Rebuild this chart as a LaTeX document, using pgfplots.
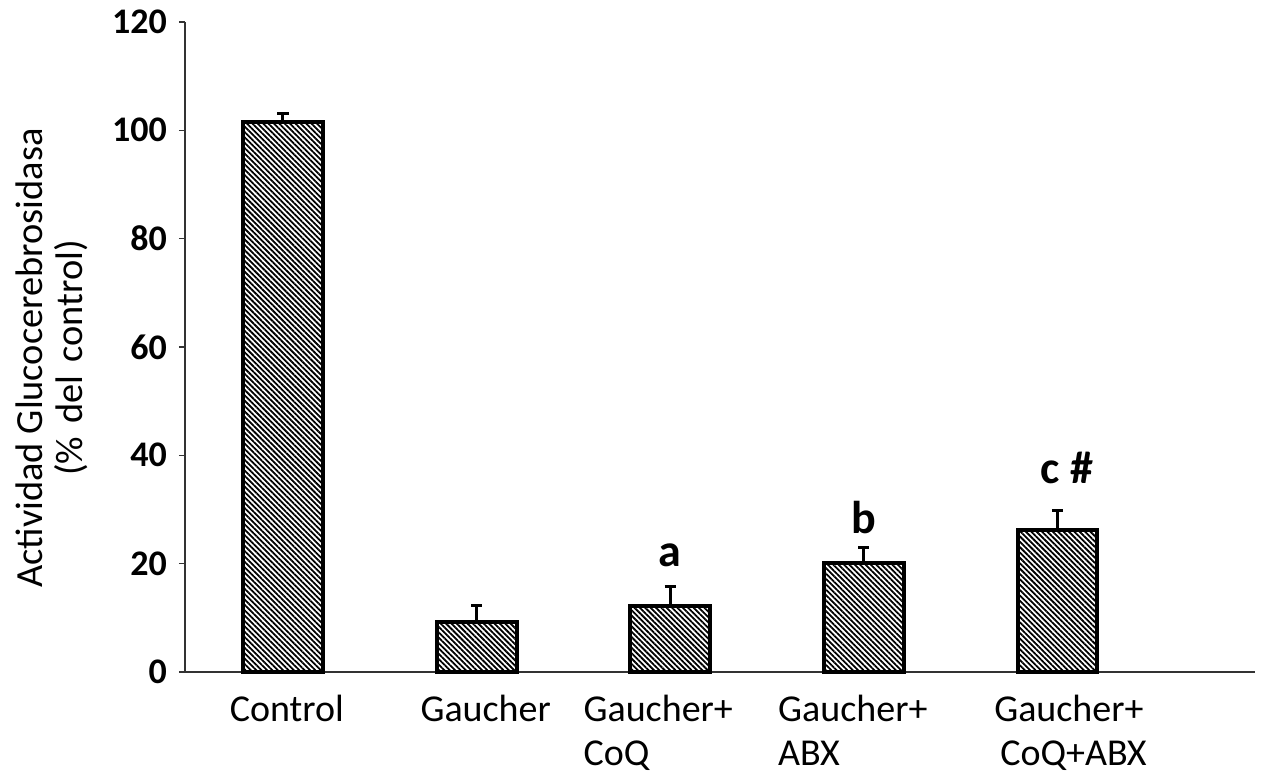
\documentclass[border=0pt]{standalone}
\usepackage{pgfplots}
\pgfplotsset{compat=1.18}
\usepackage{fontspec}
\setmainfont{Carlito}
\usetikzlibrary{patterns.meta}

\begin{document}
\begin{tikzpicture}
\begin{axis}[
  name=ax,
  width=535pt, height=325pt,
  scale only axis,
  clip=false,
  xmin=-0.506, xmax=5.02,
  ymin=0, ymax=120,
  ytick={0,20,...,120},
  % ticks are invisible on x, so label positions follow the reference
  xtick={0.02,1.047,1.938,2.943,4.067},
  xticklabels={Control, Gaucher, {Gaucher+\\CoQ}, {Gaucher+\\ABX}, {Gaucher+\\\hspace*{3pt}CoQ+ABX}},
  x tick label style={align=left, font=\fontsize{19}{22}\selectfont, yshift=-5pt},
  y tick label style={font=\fontsize{18}{19}\selectfont\bfseries, xshift=-2.5pt},
  /pgf/number format/assume math mode=true,
  axis x line=bottom, axis y line=left,
  axis line style={-, line width=0.8pt, black!80},
  major x tick style={draw=none},
  ytick style={black!80, line width=0.6pt},
  ytick pos=left,
  tick align=outside,
  major tick length=3pt,
  ylabel={Actividad Glucocerebrosidasa\\(\%\hspace{6.5pt}del\hspace{6.5pt}control)},
  ylabel style={font=\fontsize{19.2}{20}\selectfont, align=center,
    at={(axis description cs:-0.124,0.483)}, anchor=center},
]
\addplot[ybar, bar width=0.413, draw=black, line width=2pt,
  pattern={Lines[angle=-45, distance=1.9pt, line width=0.9pt]}, pattern color=black,
  error bars/.cd, y dir=plus, y explicit,
  error bar style={line width=1.5pt, black},
  error mark options={rotate=90, mark size=2.8pt, line width=1.5pt}]
coordinates {
  (0,101.5) +- (0,1.6)
  (1,9.2) +- (0,3.0)
  (2,12.2) +- (0,3.5)
  (3,20.1) +- (0,2.8)
  (4,26.2) +- (0,3.7)
};
\node[font=\fontsize{23}{24}\selectfont\bfseries] at (axis cs:2,21.6) {a};
\node[font=\fontsize{23}{24}\selectfont\bfseries] at (axis cs:3,28.6) {b};
\node[font=\fontsize{23}{24}\selectfont\bfseries] at (axis cs:4.05,37.7) {c \#};
\end{axis}
\pgfresetboundingbox
\path[use as bounding box] ([shift={(-92.5pt,-51pt)}]ax.south west) rectangle ([shift={(11.5pt,11pt)}]ax.north east);
\end{tikzpicture}
\end{document}
